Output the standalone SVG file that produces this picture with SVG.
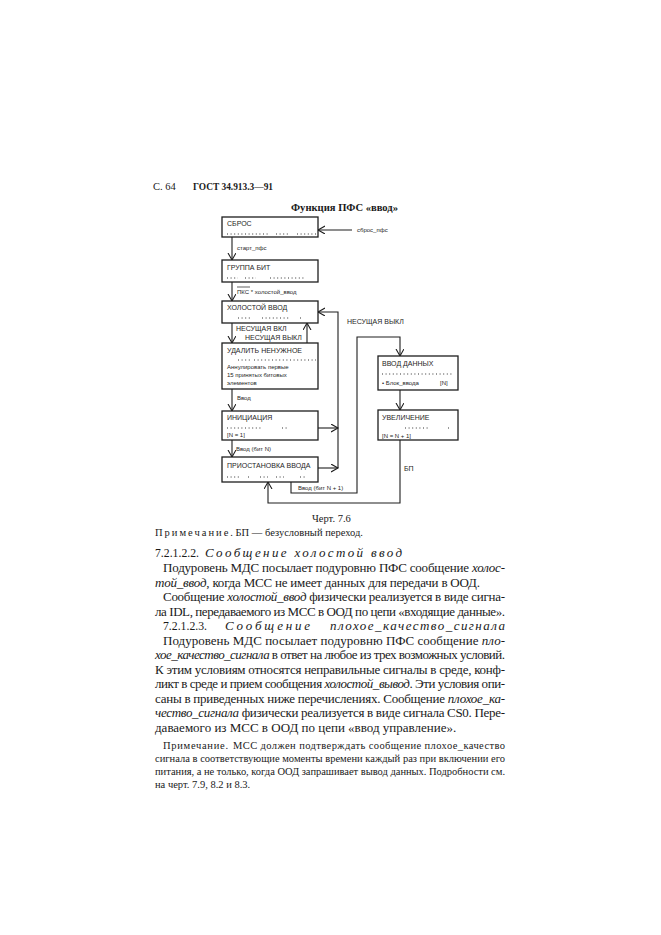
<svg xmlns="http://www.w3.org/2000/svg" width="661" height="935" viewBox="0 0 661 935">
<defs>
<style>
.bg{fill:#ffffff}
.box{fill:#ffffff;stroke:#1e1e1e;stroke-width:1.3}
.dot{stroke:#333;stroke-width:1;stroke-dasharray:1 2.6;fill:none}
.c{fill:none;stroke:#1e1e1e;stroke-width:1.1}
.t{font-family:"Liberation Sans",Arial,sans-serif;font-size:7px;fill:#1e1e1e}
.s{font-family:"Liberation Sans",Arial,sans-serif;font-size:6px;fill:#1e1e1e}
.b{font-family:"Liberation Serif","Times New Roman",serif;font-size:13px;fill:#1a1a1a}
.n{font-family:"Liberation Serif","Times New Roman",serif;font-size:10.5px;fill:#1a1a1a}
.i{font-style:italic}
.h{font-family:"Liberation Serif","Times New Roman",serif;font-weight:bold;fill:#1a1a1a}
</style>
<marker id="ah" markerWidth="10" markerHeight="10" refX="7" refY="4" orient="auto" markerUnits="userSpaceOnUse">
<path d="M0,0 L7,4 L0,8" fill="none" stroke="#1e1e1e" stroke-width="1.1"/>
</marker>
</defs>
<rect class="bg" x="0" y="0" width="661" height="935"/>

<g id="header">
<text class="n" x="153" y="190" font-size="11">С. 64</text>
<text class="h" x="193" y="190" font-size="11" textLength="80" lengthAdjust="spacingAndGlyphs">ГОСТ 34.913.3—91</text>
<text class="h" x="291" y="211" font-size="10" textLength="107" lengthAdjust="spacingAndGlyphs">Функция ПФС «ввод»</text>
</g>

<g id="connectors">
<line class="c" x1="352" y1="230" x2="318" y2="230" marker-end="url(#ah)"/>
<line class="c" x1="232" y1="237" x2="232" y2="260" marker-end="url(#ah)"/>
<line class="c" x1="232" y1="282" x2="232" y2="301" marker-end="url(#ah)"/>
<line class="c" x1="232" y1="323" x2="232" y2="343" marker-end="url(#ah)"/>
<line class="c" x1="307" y1="343" x2="307" y2="323" marker-end="url(#ah)"/>
<line class="c" x1="232" y1="389" x2="232" y2="411" marker-end="url(#ah)"/>
<line class="c" x1="232" y1="440" x2="232" y2="457" marker-end="url(#ah)"/>
<line class="c" x1="318" y1="428" x2="338" y2="428" marker-end="url(#ah)"/>
<line class="c" x1="318" y1="468" x2="338" y2="468" marker-end="url(#ah)"/>
<polyline class="c" points="338,468 338,312 318,312" marker-end="url(#ah)"/>
<polyline class="c" points="291,482 291,493 357,493 357,337 400,337 400,356" marker-end="url(#ah)"/>
<line class="c" x1="400" y1="390" x2="400" y2="410" marker-end="url(#ah)"/>
<polyline class="c" points="400,440 400,503 268,503 268,482" marker-end="url(#ah)"/>
<text class="s" x="357" y="232">сброс_пфс</text>
<text class="s" x="237" y="250">старт_пфс</text>
<text class="s" x="237" y="294">ПКС * холостой_ввод</text>
<line x1="237" y1="287" x2="250" y2="287" stroke="#1e1e1e" stroke-width="0.7"/>
<text class="t" x="236" y="331">НЕСУЩАЯ  ВКЛ</text>
<text class="t" x="245" y="340">НЕСУЩАЯ  ВЫКЛ</text>
<text class="t" x="347" y="324">НЕСУЩАЯ  ВЫКЛ</text>
<text class="s" x="237" y="400">Ввод</text>
<text class="s" x="236" y="451">Ввод  (бит N)</text>
<text class="s" x="298" y="490">Ввод  (бит N + 1)</text>
<text class="t" x="404" y="471">БП</text>
</g>

<g id="sbros">
<rect class="box" x="222" y="217" width="96" height="20"/>
<text class="t" x="227" y="226">СБРОС</text>
<line class="dot" x1="227" y1="234" x2="270" y2="234"/>
<line class="dot" x1="276" y1="234" x2="290" y2="234"/>
<line class="dot" x1="297" y1="234" x2="316" y2="234"/>
</g>

<g id="gruppa-bit">
<rect class="box" x="222" y="260" width="96" height="22"/>
<text class="t" x="227" y="270">ГРУППА БИТ</text>
<line class="dot" x1="227" y1="278" x2="238" y2="278"/>
<line class="dot" x1="245" y1="278" x2="256" y2="278"/>
<line class="dot" x1="270" y1="278" x2="306" y2="278"/>
</g>

<g id="holostoy-vvod">
<rect class="box" x="222" y="301" width="96" height="22"/>
<text class="t" x="227" y="310">ХОЛОСТОЙ ВВОД</text>
<line class="dot" x1="238" y1="318" x2="250" y2="318"/>
<line class="dot" x1="262" y1="318" x2="290" y2="318"/>
<line class="dot" x1="300" y1="318" x2="302" y2="318"/>
</g>

<g id="udalit">
<rect class="box" x="222" y="343" width="96" height="46"/>
<text class="t" x="227" y="353">УДАЛИТЬ НЕНУЖНОЕ</text>
<line class="dot" x1="238" y1="360" x2="250" y2="360"/>
<line class="dot" x1="254" y1="360" x2="316" y2="360"/>
<text class="s" x="227" y="369">Аннулировать первые</text>
<text class="s" x="227" y="377">15 принятых битовых</text>
<text class="s" x="227" y="385">элементов</text>
</g>

<g id="iniciaciya">
<rect class="box" x="222" y="411" width="96" height="29"/>
<text class="t" x="227" y="420">ИНИЦИАЦИЯ</text>
<line class="dot" x1="227" y1="428" x2="262" y2="428"/>
<line class="dot" x1="282" y1="428" x2="288" y2="428"/>
<text class="s" x="227" y="437">[N = 1]</text>
</g>

<g id="priostanovka">
<rect class="box" x="222" y="457" width="96" height="25"/>
<text class="t" x="227" y="468">ПРИОСТАНОВКА ВВОДА</text>
<line class="dot" x1="227" y1="477" x2="240" y2="477"/>
<line class="dot" x1="248" y1="477" x2="250" y2="477"/>
<line class="dot" x1="260" y1="477" x2="268" y2="477"/>
<line class="dot" x1="276" y1="477" x2="284" y2="477"/>
<line class="dot" x1="300" y1="477" x2="306" y2="477"/>
</g>

<g id="vvod-dannyh">
<rect class="box" x="378" y="356" width="80" height="34"/>
<text class="t" x="382" y="366">ВВОД ДАННЫХ</text>
<line class="dot" x1="382" y1="374" x2="454" y2="374"/>
<text class="s" x="382" y="385">• Блок_ввода</text>
<text class="s" x="440" y="385">[N]</text>
</g>

<g id="uvelichenie">
<rect class="box" x="378" y="410" width="80" height="30"/>
<text class="t" x="382" y="420">УВЕЛИЧЕНИЕ</text>
<line class="dot" x1="405" y1="428" x2="430" y2="428"/>
<line class="dot" x1="448" y1="428" x2="450" y2="428"/>
<text class="s" x="382" y="438">[N = N + 1]</text>
</g>

<g id="text">
<text class="n" x="312" y="522" font-size="11">Черт. 7.6</text>
<text class="n" x="155" y="536"><tspan letter-spacing="2">Примечание</tspan>. БП — безусловный переход.</text>

<text class="b" x="155" y="557" textLength="44" lengthAdjust="spacingAndGlyphs">7.2.1.2.2.</text>
<text class="b i" x="205" y="557" textLength="197" lengthAdjust="spacing">Сообщение  холостой  ввод</text>

<text class="b" x="163" y="572" textLength="342" lengthAdjust="spacing">Подуровень МДС посылает подуровню ПФС сообщение <tspan class="i">холос-</tspan></text>
<text class="b" x="155" y="586.5" textLength="325" lengthAdjust="spacing"><tspan class="i">той_ввод</tspan>, когда МСС не имеет данных для передачи в ООД.</text>
<text class="b" x="163" y="601" textLength="342" lengthAdjust="spacing">Сообщение <tspan class="i">холостой_ввод</tspan> физически реализуется в виде сигна-</text>
<text class="b" x="155" y="615.5" textLength="350" lengthAdjust="spacing">ла IDL, передаваемого из МСС в ООД по цепи «входящие данные».</text>
<text class="b" x="163" y="630" textLength="44" lengthAdjust="spacingAndGlyphs">7.2.1.2.3.</text>
<text class="b i" x="225" y="630" textLength="85" lengthAdjust="spacing">Сообщение</text>
<text class="b i" x="330" y="630" textLength="175" lengthAdjust="spacing">плохое_качество_сигнала</text>
<text class="b" x="163" y="644.5" textLength="342" lengthAdjust="spacing">Подуровень МДС посылает подуровню ПФС сообщение <tspan class="i">пло-</tspan></text>
<text class="b" x="155" y="659" textLength="350" lengthAdjust="spacing"><tspan class="i">хое_качество_сигнала</tspan> в ответ на любое из трех возможных условий.</text>
<text class="b" x="155" y="673.5" textLength="350" lengthAdjust="spacing">К этим условиям относятся неправильные сигналы в среде, конф-</text>
<text class="b" x="155" y="688" textLength="350" lengthAdjust="spacing">ликт в среде и прием сообщения <tspan class="i">холостой_вывод</tspan>. Эти условия опи-</text>
<text class="b" x="155" y="702.5" textLength="350" lengthAdjust="spacing">саны в приведенных ниже перечислениях. Сообщение <tspan class="i">плохое_ка-</tspan></text>
<text class="b" x="155" y="717" textLength="350" lengthAdjust="spacing"><tspan class="i">чество_сигнала</tspan> физически реализуется в виде сигнала CS0. Пере-</text>
<text class="b" x="155" y="731.5">даваемого из МСС в ООД по цепи «ввод управление».</text>

<text class="n" x="163" y="749" textLength="65" lengthAdjust="spacing">Примечание.</text>
<text class="n" x="233" y="749" textLength="272" lengthAdjust="spacing">МСС должен подтверждать сообщение  плохое_качество</text>
<text class="n" x="155" y="762" textLength="350" lengthAdjust="spacing">сигнала в соответствующие моменты времени каждый раз при включении его</text>
<text class="n" x="155" y="775" textLength="350" lengthAdjust="spacing">питания, а не только, когда ООД запрашивает вывод данных. Подробности см.</text>
<text class="n" x="155" y="788">на черт. 7.9, 8.2 и 8.3.</text>
</g>
</svg>
